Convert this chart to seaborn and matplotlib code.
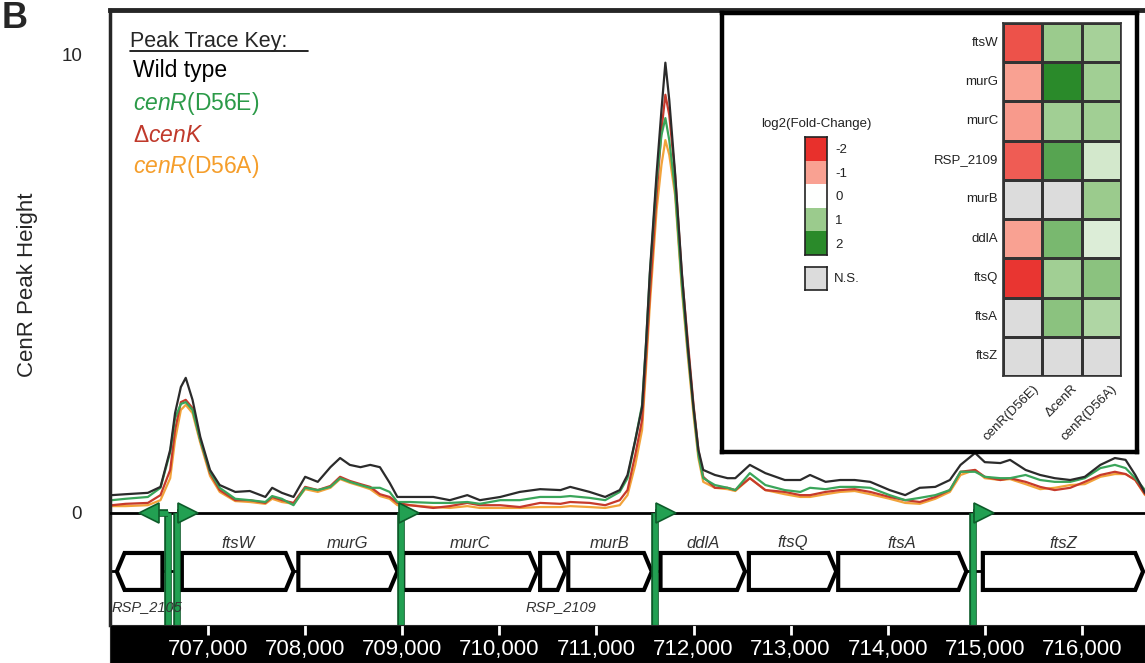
import numpy as np
import pandas as pd
import matplotlib
matplotlib.use('Agg')
import matplotlib.pyplot as plt
import matplotlib.patheffects as pe
from matplotlib.colors import LinearSegmentedColormap
from matplotlib.lines import Line2D
from matplotlib.transforms import ScaledTranslation
import seaborn as sns

sns.set_style('white')
plt.rcParams['font.family'] = ['Liberation Sans', 'DejaVu Sans']
plt.rcParams['mathtext.fontset'] = 'custom'
plt.rcParams['mathtext.rm'] = 'Liberation Sans'
plt.rcParams['mathtext.it'] = 'Liberation Sans:italic'

# ---- ChIP peak traces (genome position, CenR peak height) ----
position = [706010, 706150, 706380, 706510, 706610, 706660, 706720, 706770, 706840, 706920,
            707020, 707120, 707280, 707430, 707590, 707660, 707760, 707880, 708000, 708130,
            708260, 708360, 708460, 708570, 708670, 708770, 708870, 708950, 709080, 709320,
            709490, 709670, 709800, 710010, 710210, 710420, 710630, 710730, 710930, 711090,
            711240, 711320, 711400, 711470, 711510, 711550, 711620, 711670, 711710, 711750,
            711810, 711880, 711940, 712000, 712050, 712100, 712220, 712350, 712430, 712580,
            712740, 712940, 713100, 713200, 713360, 713510, 713660, 713820, 714020, 714180,
            714330, 714490, 714640, 714750, 714900, 715000, 715160, 715260, 715420, 715570,
            715720, 715880, 716030, 716190, 716340, 716450, 716550, 716650]
wild_type = [0.39, 0.41, 0.44, 0.57, 1.38, 2.18, 2.75, 2.95, 2.47, 1.66,
             0.94, 0.61, 0.46, 0.48, 0.35, 0.55, 0.44, 0.35, 0.79, 0.68,
             1.00, 1.20, 1.05, 1.00, 1.05, 1.00, 0.66, 0.35, 0.35, 0.35,
             0.28, 0.39, 0.28, 0.35, 0.46, 0.52, 0.50, 0.57, 0.46, 0.35,
             0.50, 0.83, 1.59, 2.31, 3.67, 5.24, 7.42, 8.80, 9.83, 9.02,
             7.42, 5.24, 3.67, 2.31, 1.38, 0.94, 0.83, 0.76, 0.76, 1.05,
             0.87, 0.72, 0.72, 0.83, 0.68, 0.72, 0.72, 0.68, 0.50, 0.39,
             0.55, 0.57, 0.72, 1.05, 1.31, 1.11, 1.09, 1.16, 0.94, 0.83,
             0.76, 0.72, 0.79, 1.05, 1.20, 1.16, 0.83, 0.44]
cenR_D56E = [0.28, 0.31, 0.35, 0.55, 1.33, 2.07, 2.38, 2.42, 2.25, 1.59,
             0.90, 0.55, 0.31, 0.28, 0.24, 0.37, 0.31, 0.17, 0.55, 0.50,
             0.57, 0.76, 0.68, 0.61, 0.55, 0.55, 0.46, 0.24, 0.24, 0.22,
             0.22, 0.24, 0.20, 0.28, 0.28, 0.35, 0.35, 0.37, 0.33, 0.28,
             0.46, 0.76, 1.59, 2.36, 3.67, 5.20, 7.27, 8.25, 8.62, 8.14,
             7.05, 4.98, 3.56, 2.25, 1.27, 0.76, 0.61, 0.55, 0.50, 0.87,
             0.61, 0.50, 0.46, 0.55, 0.52, 0.57, 0.57, 0.55, 0.39, 0.28,
             0.33, 0.39, 0.50, 0.90, 0.90, 0.79, 0.76, 0.76, 0.83, 0.72,
             0.68, 0.68, 0.76, 0.98, 1.05, 0.98, 0.76, 0.50]
delta_cenK = [0.17, 0.20, 0.22, 0.39, 0.94, 1.81, 2.42, 2.47, 2.29, 1.59,
              0.87, 0.50, 0.28, 0.28, 0.22, 0.35, 0.28, 0.22, 0.57, 0.50,
              0.59, 0.79, 0.70, 0.63, 0.57, 0.41, 0.35, 0.22, 0.17, 0.11,
              0.15, 0.22, 0.17, 0.17, 0.13, 0.22, 0.20, 0.24, 0.22, 0.17,
              0.28, 0.50, 1.27, 2.03, 3.34, 4.76, 6.94, 8.36, 9.13, 8.69,
              7.38, 5.20, 3.78, 2.36, 1.38, 0.79, 0.55, 0.55, 0.50, 0.76,
              0.50, 0.46, 0.39, 0.39, 0.46, 0.50, 0.52, 0.46, 0.35, 0.28,
              0.24, 0.35, 0.50, 0.90, 0.94, 0.79, 0.72, 0.76, 0.68, 0.57,
              0.50, 0.55, 0.68, 0.83, 0.90, 0.85, 0.72, 0.41]
cenR_D56A = [0.15, 0.15, 0.17, 0.28, 0.76, 1.59, 2.25, 2.36, 2.18, 1.53,
             0.81, 0.46, 0.26, 0.24, 0.20, 0.31, 0.24, 0.20, 0.52, 0.46,
             0.55, 0.74, 0.66, 0.59, 0.52, 0.37, 0.31, 0.17, 0.17, 0.13,
             0.11, 0.15, 0.11, 0.11, 0.11, 0.13, 0.13, 0.15, 0.13, 0.11,
             0.17, 0.39, 1.05, 1.81, 3.12, 4.54, 6.62, 7.60, 8.14, 7.82,
             6.94, 4.87, 3.45, 2.14, 1.20, 0.68, 0.55, 0.52, 0.48, 0.76,
             0.50, 0.41, 0.35, 0.35, 0.41, 0.46, 0.48, 0.41, 0.31, 0.22,
             0.20, 0.31, 0.46, 0.83, 0.94, 0.76, 0.72, 0.74, 0.63, 0.52,
             0.55, 0.61, 0.63, 0.79, 0.85, 0.85, 0.72, 0.39]

# ---- gene map ----
gene_name = ['RSP_2105', 'ftsW', 'murG', 'murC', 'RSP_2109', 'murB', 'ddlA', 'ftsQ', 'ftsA', 'ftsZ']
gene_start = [706060, 706730, 707930, 709010, 710420, 710710, 711660, 712570, 713490, 714980]
gene_end = [706530, 707880, 708950, 710390, 710680, 711570, 712530, 713470, 714810, 716630]
gene_strand = [-1, 1, 1, 1, 1, 1, 1, 1, 1, 1]
promoter_pos = [706588, 706681, 708990, 711604, 714880]
promoter_tip = [706300, 706885, 709160, 711810, 715090]

# ---- RNA-seq heatmap ----
heat_genes = ['ftsW', 'murG', 'murC', 'RSP_2109', 'murB', 'ddlA', 'ftsQ', 'ftsA', 'ftsZ']
heat_strains = ['cenR(D56E)', 'ΔcenR', 'cenR(D56A)']
fc_D56E = [-1.7, -1.0, -1.05, -1.6, np.nan, -1.0, -1.95, np.nan, np.nan]
fc_dcenR = [1.0, 2.0, 0.95, 1.6, np.nan, 1.3, 0.95, 1.15, np.nan]
fc_D56A = [0.9, 0.95, 0.95, 0.45, 1.0, 0.35, 1.15, 0.8, np.nan]
scale_levels = [-2, -1, 0, 1, 2]

strain_order = ['cenR(D56A)', 'ΔcenK', 'cenR(D56E)', 'Wild type']
strain_colors = {'Wild type': '#2b2b2b', 'cenR(D56E)': '#3aa55a',
                 'ΔcenK': '#c63a2c', 'cenR(D56A)': '#f2a33a'}

df = pd.concat([
    pd.DataFrame({'position': position, 'height': wild_type, 'strain': 'Wild type'}),
    pd.DataFrame({'position': position, 'height': cenR_D56E, 'strain': 'cenR(D56E)'}),
    pd.DataFrame({'position': position, 'height': delta_cenK, 'strain': 'ΔcenK'}),
    pd.DataFrame({'position': position, 'height': cenR_D56A, 'strain': 'cenR(D56A)'}),
])

W, H = 1145, 663
fig = plt.figure(figsize=(W / 100, H / 100), dpi=100)

x0, x1 = 705990, 716650
ax = fig.add_axes([110 / W, 38 / H, 1035 / W, 615 / H])
sns.lineplot(data=df, x='position', y='height', hue='strain', hue_order=strain_order,
             palette=strain_colors, linewidth=1.6, estimator=None, sort=False,
             legend=False, ax=ax, zorder=2)
ax.set_xlim(x0, x1)
ax.set_ylim(-2.445, 10.98)
ax.axhline(0, color='black', lw=2, zorder=3)
ax.set_xticks([])
ax.set_xlabel('')
ax.set_yticks([0, 2.5, 5, 7.5, 10])
ax.set_yticklabels(['0', '', '', '', '10'], fontsize=13.5)
ax.tick_params(axis='y', length=14, width=2, direction='out', pad=6)
ax.set_ylabel('CenR Peak Height', fontsize=16)
ax.yaxis.set_label_coords(-0.07, 0.553)
for s in ['right', 'bottom']:
    ax.spines[s].set_visible(False)
ax.spines['left'].set_linewidth(2.5)
ax.spines['top'].set_linewidth(3.5)

# gene arrows
g_top, g_bot, g_mid = -0.873, -1.68, -1.277
head = 80
ax.plot([x0, gene_end[-1]], [g_mid, g_mid], color='black', lw=2, zorder=2)
for name, s, e, d in zip(gene_name, gene_start, gene_end, gene_strand):
    if d > 0:
        xs = [s, e - head, e, e - head, s]
    else:
        xs = [e, s + head, s, s + head, e]
    ax.fill(xs, [g_top, g_top, g_mid, g_bot, g_bot], facecolor='white',
            edgecolor='black', lw=3, joinstyle='miter', zorder=3)
    if name.startswith('RSP'):
        ax.text((s + e) / 2 + 80, -2.05, name, ha='center', va='center',
                style='italic', fontsize=10.5, color='#333333', zorder=8)
    else:
        ax.text((s + e) / 2, -0.655, name, ha='center', va='center',
                style='italic', fontsize=12, color='#333333')

# promoter arrows
green, dgreen = '#22a052', '#0d5c2a'
stroke = [pe.Stroke(linewidth=5.5, foreground=dgreen), pe.Normal()]
for p, t in zip(promoter_pos, promoter_tip):
    d = 1 if t > p else -1
    mc = t - d * 95
    ax.plot([p, p], [-2.445, 0], color=green, lw=3.5, solid_capstyle='butt',
            path_effects=stroke, zorder=5, clip_on=False)
    ax.plot([p, mc], [0, 0], color=green, lw=3.5, solid_capstyle='butt',
            path_effects=stroke, zorder=5)
    ax.plot([mc], [0], marker='>' if d > 0 else '<', markersize=14, color=green,
            markeredgecolor=dgreen, markeredgewidth=1.2, zorder=6, clip_on=False)

# black coordinate band
bax = fig.add_axes([110 / W, 0, 1035 / W, 38 / H], facecolor='black')
bax.set_xlim(x0, x1)
bax.set_yticks([])
ticks = list(range(707000, 716001, 1000))
bax.set_xticks(ticks)
bax.set_xticklabels([f'{t:,}' for t in ticks])
bax.tick_params(axis='x', bottom=False, top=True, direction='in', length=7, width=2,
                color='white', labelcolor='white', labelsize=16, pad=-17.5)

# trace key
fig.text(130 / W, 1 - 47 / H, 'Peak Trace Key:', fontsize=15.5, va='baseline')
fig.add_artist(Line2D([130 / W, 308 / W], [1 - 51 / H] * 2, color='black', lw=1.2))
key_text = ['Wild type', r'$\it{cenR}$(D56E)', r'Δ$\it{cenK}$', r'$\it{cenR}$(D56A)']
key_strain = ['Wild type', 'cenR(D56E)', 'ΔcenK', 'cenR(D56A)']
key_base = [77, 110, 142, 173]
key_col = {'Wild type': 'black', 'cenR(D56E)': '#2b9a48', 'ΔcenK': '#c0392b',
           'cenR(D56A)': '#f59e2b'}
for txt, st, yb in zip(key_text, key_strain, key_base):
    fig.text(133 / W, 1 - yb / H, txt, fontsize=16.5, va='baseline', color=key_col[st])

fig.text(0.001, 0.998, 'B', fontsize=26, fontweight='bold', va='top', ha='left')

# inset box
box = fig.add_axes([722 / W, (H - 452) / H, 415 / W, 439 / H], facecolor='white')
box.set_xticks([])
box.set_yticks([])
for s in box.spines.values():
    s.set_visible(True)
    s.set_linewidth(3.2)
    s.set_color('black')

cmap = LinearSegmentedColormap.from_list(
    'fc', [(0, '#e8302c'), (0.25, '#f9a192'), (0.5, '#ffffff'),
           (0.75, '#9ccc8e'), (1, '#2a8a2a')])
cmap.set_bad('#dcdcdc')

heat = pd.DataFrame({'cenR(D56E)': fc_D56E, 'ΔcenR': fc_dcenR, 'cenR(D56A)': fc_D56A},
                    index=heat_genes)[heat_strains]
hax = fig.add_axes([1003 / W, (H - 376) / H, 118 / W, 353 / H])
sns.heatmap(heat, cmap=cmap, vmin=-2, vmax=2, cbar=False, linewidths=1,
            linecolor='#333333', ax=hax, mask=np.zeros(heat.shape, dtype=bool))
hax.tick_params(length=0, labelsize=9.5, labelcolor='#222222')
hax.set_yticklabels(heat_genes, rotation=0)
hax.set_xticklabels(heat_strains, rotation=45, ha='right', va='center',
                    rotation_mode='anchor')
for lbl in hax.get_xticklabels():
    lbl.set_transform(lbl.get_transform() + ScaledTranslation(0.14, -0.06, fig.dpi_scale_trans))
for s in hax.spines.values():
    s.set_visible(True)
    s.set_color('#333333')
    s.set_linewidth(1.2)

# colour scale legend
lax = fig.add_axes([805 / W, (H - 255) / H, 22 / W, 118 / H])
sns.heatmap(np.array(scale_levels, dtype=float).reshape(-1, 1), cmap=cmap, vmin=-2, vmax=2,
            cbar=False, xticklabels=False, yticklabels=[str(v) for v in scale_levels], ax=lax)
lax.yaxis.tick_right()
lax.tick_params(length=0, labelsize=9.5, pad=6, labelcolor='#222222')
lax.set_yticklabels([str(v) for v in scale_levels], rotation=0, ha='left')
lax.set_title('log2(Fold-Change)', fontsize=9.5, pad=7, color='#222222')
for s in lax.spines.values():
    s.set_visible(True)
    s.set_color('#222222')
    s.set_linewidth(1.2)

nax = fig.add_axes([805 / W, (H - 290) / H, 22 / W, 23 / H], facecolor='#dcdcdc')
nax.set_xticks([])
nax.set_yticks([])
for s in nax.spines.values():
    s.set_visible(True)
    s.set_color('#222222')
    s.set_linewidth(1.2)
nax.text(1.3, 0.5, 'N.S.', transform=nax.transAxes, va='center', ha='left',
         fontsize=9.5, color='#222222')

fig.savefig('out.png', dpi=100)
